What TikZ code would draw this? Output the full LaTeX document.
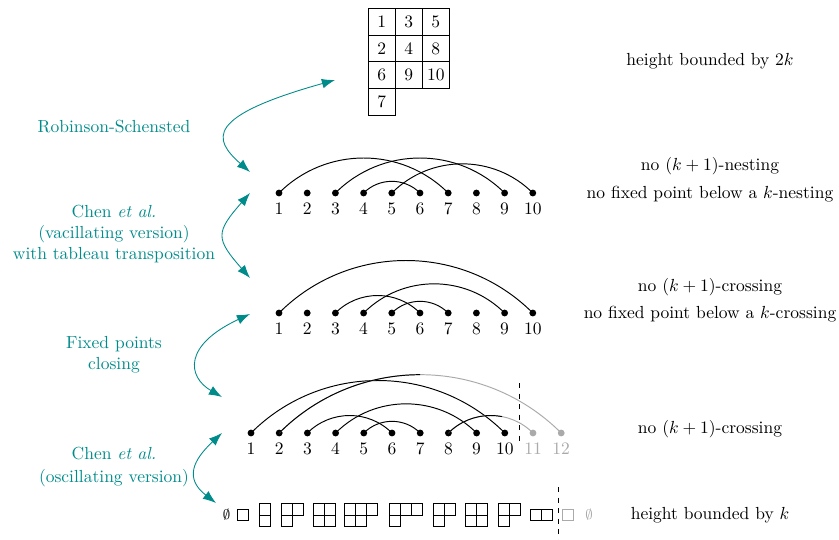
\documentclass[tikz,border=0pt]{standalone}
\usepackage{amssymb}
\usetikzlibrary{arrows.meta}
\definecolor{tealc}{RGB}{0,139,139}
\definecolor{grayc}{RGB}{170,170,170}
\newcommand\ydiag[5][black]{%
  \foreach \c/\r in {#5}{\draw[#1] ({#2-#3*5.5+\c*11},{515-#4*5.75+\r*11.5}) rectangle ++(11,11.5);}}
\begin{document}
\begin{tikzpicture}[x=0.5714pt,y=-0.5714pt,
  dot/.style={circle,fill=black,inner sep=0pt,minimum size=3.9pt},
  gdot/.style={dot,fill=grayc},
  num/.style={inner sep=0pt},
  tcell/.style={draw,inner sep=0pt,minimum width=15.43pt,minimum height=15.26pt},
  rtext/.style={inner sep=0pt},
  ltext/.style={text=tealc,align=center,inner sep=0pt},
  chord/.style={line width=0.55pt},
  conn/.style={tealc,line width=0.5pt,{Latex[length=7.5pt,width=5.5pt]}-{Latex[length=7.5pt,width=5.5pt]}},
]
\useasboundingbox (0,0) rectangle (839,540);

% tableau
\foreach \r/\c/\v in {0/0/1,0/1/3,0/2/5,1/0/2,1/1/4,1/2/8,2/0/6,2/1/9,2/2/10,3/0/7}
  \node[tcell] (t\r\c) at ({381.8+27*\c},{21.7+26.7*\r}) {\v};

% right texts
\node[rtext] (rt1) at (710,61) {height bounded by $2k$};
\node[rtext] (rt2) at (710,166) {no $(k+1)$-nesting};
\node[rtext] (rt3) at (710,194) {no fixed point below a $k$-nesting};
\node[rtext] (rt4) at (710,287) {no $(k+1)$-crossing};
\node[rtext] (rt5) at (710,314) {no fixed point below a $k$-crossing};
\node[rtext] (rt6) at (710,429) {no $(k+1)$-crossing};
\node[rtext] (rt7) at (710,515) {height bounded by $k$};

% left texts
\node[ltext] (lt1) at (114,127) {Robinson-Schensted};
\node[ltext] (lt2) at (114,234.5) {Chen \emph{et al.}\\(vacillating version)\\with tableau transposition};
\node[ltext] (lt3) at (114,355) {Fixed points\\closing};
\node[ltext] (lt4) at (114,467) {Chen \emph{et al.}\\[1.5pt](oscillating version)};

% row 2 (nesting)
\foreach \i in {1,...,10}{
  \node[dot] (r2-\i) at ({279+28.2*(\i-1)},193) {};
  \node[num] (r2l-\i) at ({279+28.2*(\i-1)},209) {\i};
}
\foreach \a/\b in {1/7,3/9,4/6,5/10}
  \draw[chord] (r2-\a.center) to[out=45,in=135] (r2-\b.center);

% row 3 (crossing)
\foreach \i in {1,...,10}{
  \node[dot] (r3-\i) at ({279+28.2*(\i-1)},313) {};
  \node[num] (r3l-\i) at ({279+28.2*(\i-1)},329) {\i};
}
\foreach \a/\b in {1/10,3/6,4/9,5/7}
  \draw[chord] (r3-\a.center) to[out=45,in=135] (r3-\b.center);

% row 4 (closed)
\foreach \i in {1,...,10}{
  \node[dot] (r4-\i) at ({251+28.2*(\i-1)},433) {};
  \node[num] (r4l-\i) at ({251+28.2*(\i-1)},449) {\i};
}
\foreach \i in {11,12}{
  \node[gdot] (r4-\i) at ({251+28.2*(\i-1)},433) {};
  \node[num,text=grayc] (r4l-\i) at ({251+28.2*(\i-1)},449) {\i};
}
\foreach \a/\b in {1/10,3/6,4/9,5/7}
  \draw[chord] (r4-\a.center) to[out=45,in=135] (r4-\b.center);
\draw[chord,grayc] (r4-2.center) to[out=45,in=135] (r4-12.center);
\draw[chord,grayc] (r4-8.center) to[out=45,in=135] (r4-11.center);
\begin{scope}
  \clip (0,0) rectangle (420,540);
  \draw[chord] (r4-2.center) to[out=45,in=135] (r4-12.center);
\end{scope}
\begin{scope}
  \clip (0,0) rectangle (502,540);
  \draw[chord] (r4-8.center) to[out=45,in=135] (r4-11.center);
\end{scope}
\draw[dashed] (519,383) -- (519,441);

% row 5 (oscillating tableaux)
\node[inner sep=0pt] (e0) at (226.5,515) {\footnotesize$\emptyset$};
\ydiag{243}{1}{1}{0/0}
\ydiag{264.5}{1}{2}{0/0,0/1}
\ydiag{292}{2}{2}{0/0,1/0,0/1}
\ydiag{324}{2}{2}{0/0,1/0,0/1,1/1}
\ydiag{361}{3}{2}{0/0,1/0,2/0,0/1,1/1}
\ydiag{406}{3}{2}{0/0,1/0,2/0,0/1}
\ydiag{444}{2}{2}{0/0,1/0,0/1}
\ydiag{476}{2}{2}{0/0,1/0,0/1,1/1}
\ydiag{509}{2}{2}{0/0,1/0,0/1}
\ydiag{541.5}{2}{1}{0/0,1/0}
\ydiag[grayc]{568}{1}{1}{0/0}
\node[inner sep=0pt,text=grayc] (e1) at (589,515) {\footnotesize$\emptyset$};
\draw[dashed] (558,487) -- (558,540);

% teal connectors
\coordinate (a1s) at (335,80);  \coordinate (a1e) at (250,172);
\coordinate (a2s) at (250,193); \coordinate (a2e) at (250,278);
\coordinate (a3s) at (250,314); \coordinate (a3e) at (222,397);
\coordinate (a4s) at (222,433); \coordinate (a4e) at (216,503);
\draw[conn] (a1s) .. controls (205,116.4) and (212.5,139) .. (a1e);
\draw[conn] (a2s) .. controls (215.4,232.4) and (215.4,238.6) .. (a2e);
\draw[conn] (a3s) .. controls (182.5,345.5) and (187.6,377) .. (a3e);
\draw[conn] (a4s) .. controls (192.8,460.2) and (184.4,478.6) .. (a4e);
\end{tikzpicture}
\end{document}
